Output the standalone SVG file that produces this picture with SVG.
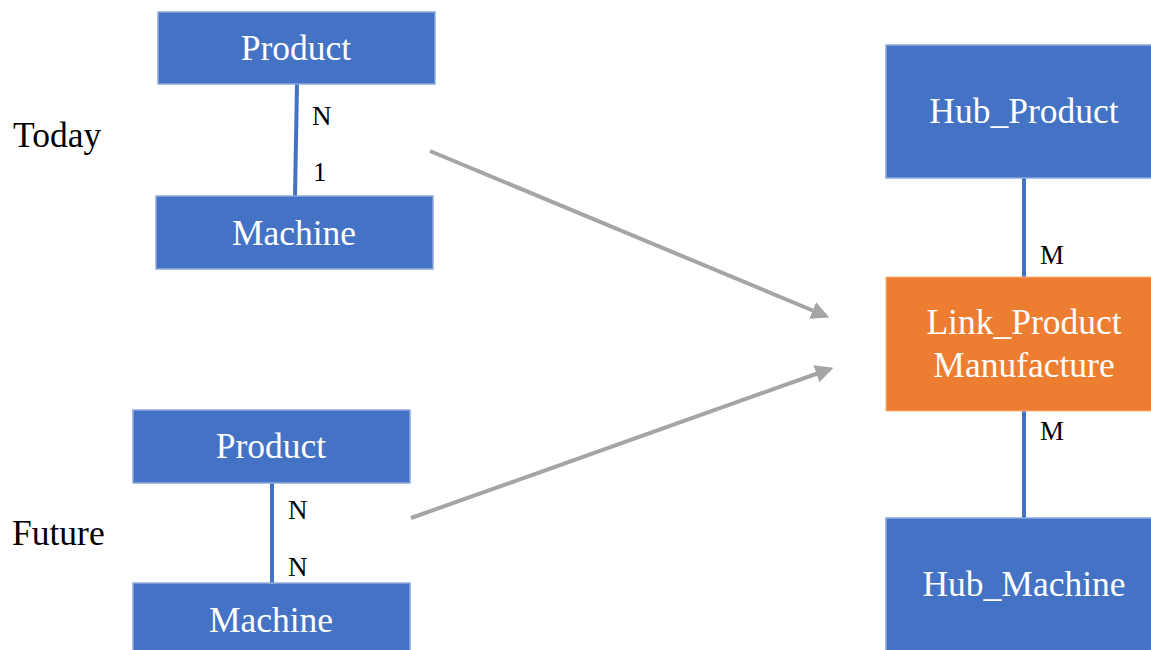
<svg xmlns="http://www.w3.org/2000/svg" width="1151" height="650" viewBox="0 0 1151 650">
<style>
.blue{fill:#4472C4;stroke:#8FAADC;stroke-width:1.5}
.orange{fill:#ED7D31;stroke:#F4B183;stroke-width:1}
.nt{font-family:"Liberation Serif",serif;font-size:35.5px;fill:#fff;text-anchor:middle}
.lb{font-family:"Liberation Serif",serif;font-size:27px;fill:#000}
.side{font-family:"Liberation Serif",serif;font-size:35.5px;fill:#000}
.rel{stroke:#4472C4;stroke-width:4;fill:none}
.arr{stroke:#A5A5A5;stroke-width:4;fill:none}
</style>
<defs>
<marker id="ah" viewBox="0 0 10 10" refX="8" refY="5" markerWidth="4.5" markerHeight="4.5" orient="auto" markerUnits="strokeWidth">
<path d="M0,0 L10,5 L0,10 z" fill="#A5A5A5"/>
</marker>
</defs>
<rect width="1151" height="650" fill="#fff"/>
<g id="connectors">
<line class="rel" x1="297" y1="84" x2="295" y2="196"/>
<line class="rel" x1="272" y1="483" x2="272" y2="584"/>
<line class="rel" x1="1024" y1="178" x2="1024" y2="277"/>
<line class="rel" x1="1024" y1="411" x2="1024" y2="518"/>
<line class="arr" x1="430" y1="151" x2="826" y2="316" marker-end="url(#ah)"/>
<line class="arr" x1="411" y1="518" x2="830" y2="369" marker-end="url(#ah)"/>
<text class="lb" x="312" y="125">N</text>
<text class="lb" x="313" y="181">1</text>
<text class="lb" x="288" y="519">N</text>
<text class="lb" x="288" y="576">N</text>
<text class="lb" x="1040" y="264">M</text>
<text class="lb" x="1040" y="440">M</text>
</g>
<g id="label-today"><text class="side" x="13" y="147">Today</text></g>
<g id="label-future"><text class="side" x="12" y="545">Future</text></g>
<g id="today-product"><rect class="blue" x="158" y="12" width="277" height="72"/><text class="nt" x="296" y="60">Product</text></g>
<g id="today-machine"><rect class="blue" x="156" y="196" width="277" height="73"/><text class="nt" x="294" y="245">Machine</text></g>
<g id="future-product"><rect class="blue" x="133" y="410" width="277" height="73"/><text class="nt" x="271" y="458">Product</text></g>
<g id="future-machine"><rect class="blue" x="133" y="583" width="277" height="80"/><text class="nt" x="271" y="632">Machine</text></g>
<g id="hub-product"><rect class="blue" x="886" y="45" width="280" height="133"/><text class="nt" x="1024" y="123">Hub_Product</text></g>
<g id="link-product-manufacture"><rect class="orange" x="886" y="277" width="280" height="134"/><text class="nt" x="1024" y="334">Link_Product</text><text class="nt" x="1024" y="377">Manufacture</text></g>
<g id="hub-machine"><rect class="blue" x="886" y="518" width="280" height="145"/><text class="nt" x="1024" y="596">Hub_Machine</text></g>
</svg>
